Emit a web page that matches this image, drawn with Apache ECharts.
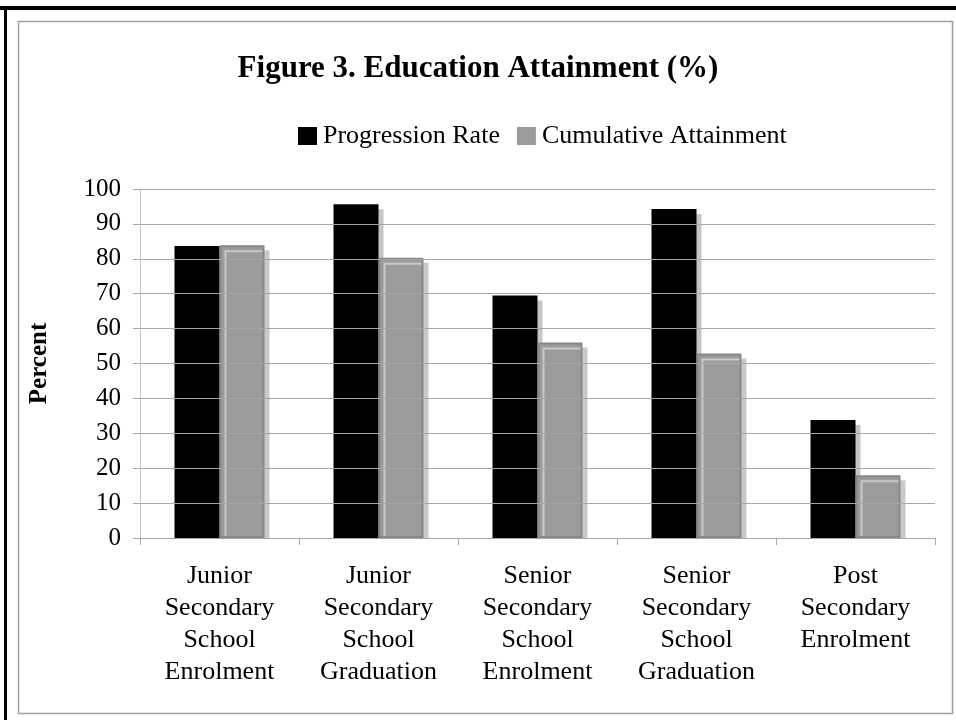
<!DOCTYPE html>
<html>
<head>
<meta charset="utf-8">
<script src="https://cdn.jsdelivr.net/npm/echarts@6/dist/echarts.min.js"></script>
<style>
  html, body { margin: 0; padding: 0; background: #fff; }
  #chart { width: 956px; height: 720px; }
</style>
</head>
<body>
<div id="chart"></div>
<script>
// Education attainment figures
const categories = [
  'Junior\nSecondary\nSchool\nEnrolment',
  'Junior\nSecondary\nSchool\nGraduation',
  'Senior\nSecondary\nSchool\nEnrolment',
  'Senior\nSecondary\nSchool\nGraduation',
  'Post\nSecondary\nEnrolment'
];
const progressionRate = [83.7, 95.6, 69.5, 94.3, 33.8];
const cumulativeAttainment = [83.9, 80.3, 56.0, 52.9, 18.0];
const seriesNames = ['Progression Rate', 'Cumulative Attainment'];

const serif = '"Liberation Serif", "Times New Roman", serif';
const chart = echarts.init(document.getElementById('chart'));

chart.setOption({
  backgroundColor: '#fff',
  animation: false,
  textStyle: { fontFamily: serif, color: '#000' },
  title: {
    text: 'Figure 3. Education Attainment (%)',
    left: 'center',
    top: 48,
    textStyle: { fontFamily: serif, fontSize: 31, fontWeight: 'bold', color: '#000' }
  },
  legend: {
    left: 293,
    top: 118,
    itemWidth: 19,
    itemHeight: 18,
    itemGap: 17,
    icon: 'rect',
    itemStyle: { borderWidth: 0, shadowColor: 'transparent' },
    textStyle: { fontFamily: serif, fontSize: 26, color: '#000', padding: [0, 0, 0, 1] },
    data: seriesNames
  },
  grid: { left: 140, right: 21, top: 189, bottom: 182, containLabel: false },
  xAxis: {
    type: 'category',
    data: categories,
    z: 10,
    axisLine: { lineStyle: { color: '#a6a6a6', width: 1 } },
    axisTick: { show: true, length: 7, lineStyle: { color: '#a6a6a6' } },
    axisLabel: {
      interval: 0,
      margin: 22,
      fontFamily: serif,
      fontSize: 26,
      lineHeight: 32,
      color: '#000'
    }
  },
  yAxis: {
    type: 'value',
    min: 0,
    max: 100,
    interval: 10,
    z: 10,
    name: 'Percent',
    nameLocation: 'middle',
    nameRotate: 90,
    nameGap: 88,
    nameTextStyle: { fontFamily: serif, fontSize: 25, fontWeight: 'bold', color: '#000' },
    axisLine: { show: true, lineStyle: { color: '#c4c4c4', width: 1 } },
    axisTick: { show: true, length: 7, lineStyle: { color: '#a6a6a6' } },
    axisLabel: { margin: 19, fontFamily: serif, fontSize: 25, color: '#000' },
    splitLine: { lineStyle: { color: '#a6a6a6', width: 1 } }
  },
  series: [
    {
      name: seriesNames[0],
      type: 'bar',
      data: progressionRate,
      barWidth: 45,
      barGap: '0%',
      itemStyle: {
        color: '#000',
        borderWidth: 0,
        shadowColor: '#c6c6c6',
        shadowBlur: 0,
        shadowOffsetX: 5,
        shadowOffsetY: 5
      }
    },
    {
      name: seriesNames[1],
      type: 'bar',
      data: cumulativeAttainment,
      barWidth: 45,
      barGap: '0%',
      itemStyle: {
        color: '#9b9b9b',
        borderColor: '#878787',
        borderWidth: 2,
        shadowColor: '#c9c9c9',
        shadowBlur: 0,
        shadowOffsetX: 5,
        shadowOffsetY: 5
      }
    }
  ],
  graphic: [
    // hide bar shadows below the category axis
    { type: 'rect', z: 5, silent: true, shape: { x: 141, y: 539, width: 800, height: 8 }, style: { fill: '#fff' } },
    // outer frame
    { type: 'rect', z: 0, silent: true, shape: { x: 18.5, y: 21.5, width: 934, height: 692 }, style: { fill: 'none', stroke: '#a0a0a0', lineWidth: 1.5 } },
    { type: 'rect', z: 0, silent: true, shape: { x: 0, y: 6, width: 956, height: 4 }, style: { fill: '#000' } },
    { type: 'rect', z: 0, silent: true, shape: { x: 4, y: 6, width: 3, height: 714 }, style: { fill: '#000' } }
  ]
});
</script>
</body>
</html>
